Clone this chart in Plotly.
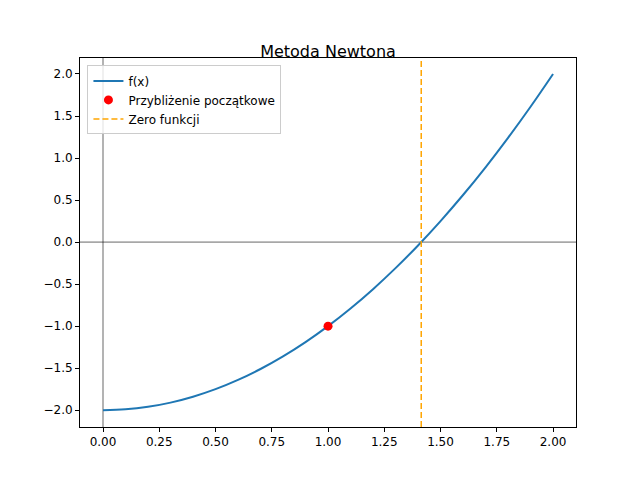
import plotly.graph_objects as go

x_vals = [0.0, 0.1, 0.2, 0.3, 0.4, 0.5, 0.6, 0.7, 0.8, 0.9, 1.0, 1.1, 1.2, 1.3, 1.4, 1.5, 1.6, 1.7, 1.8, 1.9, 2.0]
y_vals = [-2.0, -1.99, -1.96, -1.91, -1.84, -1.75, -1.64, -1.51, -1.36, -1.19, -1.0,
          -0.79, -0.56, -0.31, -0.04, 0.25, 0.56, 0.89, 1.24, 1.61, 2.0]
x0 = [1.0]
y0 = [-1.0]
root = 1.4142

fig = go.Figure()
fig.add_trace(go.Scatter(x=x_vals, y=y_vals, mode='lines', name='f(x)',
                         line=dict(color='#1f77b4', width=2, shape='spline')))
fig.add_trace(go.Scatter(x=x0, y=y0, mode='markers', name='Przybliżenie początkowe',
                         marker=dict(color='red', size=9)))
fig.add_trace(go.Scatter(x=[root, root], y=[-2.2, 2.19], mode='lines', name='Zero funkcji',
                         line=dict(color='orange', width=1.5, dash='6px,3px')))

fig.add_hline(y=0, line=dict(color='black', width=0.6), layer='below')
fig.add_vline(x=0, line=dict(color='black', width=0.6), layer='below')

axis = dict(showgrid=False, zeroline=False, showline=True, mirror=True, linecolor='black',
            ticks='outside', ticklen=4, tickcolor='black')
fig.update_layout(
    width=640, height=480,
    title=dict(text='Metoda Newtona', x=0.5, xanchor='center', y=0.91, yanchor='middle',
               font=dict(size=16, color='black')),
    font=dict(family='DejaVu Sans', size=12, color='black'),
    plot_bgcolor='white', paper_bgcolor='white',
    margin=dict(l=72, r=72, t=50, b=61),
    xaxis=dict(axis, range=[-0.1022, 2.102], tickvals=[0, 0.25, 0.5, 0.75, 1.0, 1.25, 1.5, 1.75, 2.0],
               ticktext=['0.00', '0.25', '0.50', '0.75', '1.00', '1.25', '1.50', '1.75', '2.00']),
    yaxis=dict(axis, range=[-2.2, 2.19], tickvals=[-2, -1.5, -1, -0.5, 0, 0.5, 1, 1.5, 2],
               ticktext=['−2.0', '−1.5', '−1.0', '−0.5', '0.0', '0.5', '1.0', '1.5', '2.0']),
    legend=dict(x=0.015, y=0.98, xanchor='left', yanchor='top', bgcolor='rgba(255,255,255,0.8)',
                bordercolor='#cccccc', borderwidth=1, font=dict(size=12)),
    showlegend=True,
)
fig.write_html('out.html')
